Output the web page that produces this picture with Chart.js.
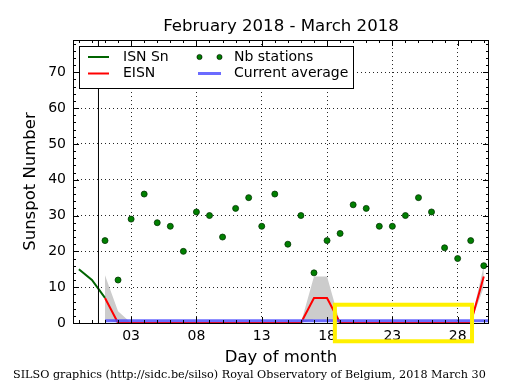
<!DOCTYPE html>
<html>
<head>
<meta charset="utf-8">
<script src="https://cdn.jsdelivr.net/npm/chart.js@4/dist/chart.umd.min.js"></script>
<style>
    html, body { margin: 0; padding: 0; background: #ffffff; }
    #chart { display: block; }
</style>
</head>
<body>
<canvas id="chart" width="515" height="390"></canvas>
<script>
// ISN Sn (end of previous month), days relative to March
const isnDays = [-1, 0, 1];
const isnValues = [15, 12, 7];

// daily values, March 1..30
const days = [1, 2, 3, 4, 5, 6, 7, 8, 9, 10, 11, 12, 13, 14, 15, 16, 17, 18, 19, 20, 21, 22, 23, 24, 25, 26, 27, 28, 29, 30];
const eisnValues = [7, 0, 0, 0, 0, 0, 0, 0, 0, 0, 0, 0, 0, 0, 0, 0, 7, 7, 0, 0, 0, 0, 0, 0, 0, 0, 0, 0, 0, 13];
const bandHigh = [13.3, 3.3, 0, 0, 0, 0, 0, 0, 0, 0, 0, 0, 0, 0, 0, 0, 13, 13, 0, 0, 0, 0, 0, 0, 0, 0, 0, 0, 0, 16];
const bandLow = [1, 0, 0, 0, 0, 0, 0, 0, 0, 0, 0, 0, 0, 0, 0, 0, 1, 1, 0, 0, 0, 0, 0, 0, 0, 0, 0, 0, 0, 10];
const stations = [23, 12, 29, 36, 28, 27, 20, 31, 30, 24, 32, 35, 27, 36, 22, 30, 14, 23, 25, 33, 32, 27, 27, 30, 35, 31, 21, 18, 23, 16];

const averageDays = [1, 31];
const averageValues = [0.6, 0.6];

const markerDay = 0.5;
const boxDays = [18.6, 29.1];
const boxValues = [-5.1, 5.1];

const xTicks = [3, 8, 13, 18, 23, 28];
const yTicks = [0, 10, 20, 30, 40, 50, 60, 70];
const xRange = [-1.45, 30.4];
const yRange = [0, 79];

const titleText = "February 2018 - March 2018";
const footerText = "SILSO graphics (http://sidc.be/silso) Royal Observatory of Belgium, 2018 March 30";

const sans = "'DejaVu Sans', sans-serif";

function points(xs, ys) {
    return xs.map((x, i) => ({ x: x, y: ys[i] }));
}

Chart.defaults.font.family = sans;
Chart.defaults.color = "#000000";

const decorations = {
    id: "decorations",
    afterDraw(chart) {
        const { ctx, chartArea: a, scales: { x, y } } = chart;
        ctx.save();

        // frame
        ctx.strokeStyle = "#000000";
        ctx.lineWidth = 1;
        ctx.strokeRect(Math.round(a.left) + 0.5, Math.round(a.top) + 0.5,
            Math.round(a.right - a.left) - 1, Math.round(a.bottom - a.top));

        // inward ticks on all sides
        ctx.beginPath();
        for (let d = -1; d <= 30; d++) {
            const px = Math.round(x.getPixelForValue(d)) + 0.5;
            const len = xTicks.includes(d) ? 6 : 3;
            ctx.moveTo(px, a.bottom); ctx.lineTo(px, a.bottom - len);
            ctx.moveTo(px, a.top); ctx.lineTo(px, a.top + len);
        }
        for (let v = 0; v <= 78; v += 2) {
            const py = Math.round(y.getPixelForValue(v)) + 0.5;
            const len = v % 10 === 0 ? 6 : 3;
            ctx.moveTo(a.left, py); ctx.lineTo(a.left + len, py);
            ctx.moveTo(a.right, py); ctx.lineTo(a.right - len, py);
        }
        ctx.stroke();

        // highlight box
        const bx0 = x.getPixelForValue(boxDays[0]);
        const bx1 = x.getPixelForValue(boxDays[1]);
        const by0 = y.getPixelForValue(boxValues[1]);
        const by1 = y.getPixelForValue(boxValues[0]);
        ctx.strokeStyle = "rgb(255, 240, 0)";
        ctx.lineWidth = 4;
        ctx.lineJoin = "miter";
        ctx.strokeRect(bx0, by0, bx1 - bx0, by1 - by0);

        // legend
        const lx = 79.5, ly = 46.5, lw = 274, lh = 42;
        ctx.fillStyle = "#ffffff";
        ctx.fillRect(lx, ly, lw, lh);
        ctx.strokeStyle = "#000000";
        ctx.lineWidth = 1;
        ctx.strokeRect(lx, ly, lw, lh);

        const sets = chart.data.datasets;
        const row1 = 57, row2 = 73.5;
        ctx.lineWidth = 2;
        ctx.strokeStyle = sets[5].borderColor;
        ctx.beginPath(); ctx.moveTo(88, row1); ctx.lineTo(109, row1); ctx.stroke();
        ctx.strokeStyle = sets[4].borderColor;
        ctx.beginPath(); ctx.moveTo(88, row2); ctx.lineTo(109, row2); ctx.stroke();
        ctx.lineWidth = 3;
        ctx.strokeStyle = sets[3].borderColor;
        ctx.beginPath(); ctx.moveTo(198, row2); ctx.lineTo(221, row2); ctx.stroke();
        ctx.fillStyle = sets[1].pointBackgroundColor;
        ctx.strokeStyle = "#000000";
        ctx.lineWidth = 0.6;
        [199.5, 219.5].forEach((cx) => {
            ctx.beginPath(); ctx.arc(cx, row1, 2.6, 0, Math.PI * 2); ctx.fill(); ctx.stroke();
        });

        ctx.fillStyle = "#000000";
        ctx.font = "14px " + sans;
        ctx.textBaseline = "middle";
        ctx.textAlign = "left";
        ctx.fillText(sets[5].label, 123, row1);
        ctx.fillText(sets[4].label, 123, row2);
        ctx.fillText(sets[1].label, 234, row1);
        ctx.fillText(sets[3].label, 234, row2);

        // footer
        ctx.font = "11.2px 'DejaVu Serif', serif";
        ctx.textBaseline = "alphabetic";
        ctx.fillText(footerText, 13, 378);
        ctx.restore();
    }
};

new Chart(document.getElementById("chart"), {
    type: "line",
    data: {
        datasets: [
            {
                label: "marker",
                data: [{ x: markerDay, y: yRange[0] }, { x: markerDay, y: yRange[1] }],
                borderColor: "#000000",
                borderWidth: 1,
                pointRadius: 0
            },
            {
                label: "Nb stations",
                data: points(days, stations),
                showLine: false,
                pointRadius: 3,
                pointBackgroundColor: "#008000",
                pointBorderColor: "#003300",
                pointBorderWidth: 0.8
            },
            {
                label: "spacer",
                data: [],
                pointRadius: 0
            },
            {
                label: "Current average",
                data: points(averageDays, averageValues),
                borderColor: "rgba(70, 70, 255, 0.8)",
                borderWidth: 3,
                pointRadius: 0
            },
            {
                label: "EISN",
                data: points(days, eisnValues),
                borderColor: "#ff0000",
                borderWidth: 2,
                pointRadius: 0
            },
            {
                label: "ISN Sn",
                data: points(isnDays, isnValues),
                borderColor: "#006400",
                borderWidth: 2,
                pointRadius: 0
            },
            {
                label: "band high",
                data: points(days, bandHigh),
                borderWidth: 0,
                borderColor: "rgba(0,0,0,0)",
                backgroundColor: "#cccccc",
                fill: "+1",
                pointRadius: 0
            },
            {
                label: "band low",
                data: points(days, bandLow),
                borderWidth: 0,
                borderColor: "rgba(0,0,0,0)",
                pointRadius: 0
            }
        ]
    },
    options: {
        responsive: false,
        animation: false,
        devicePixelRatio: 1,
        layout: { padding: { left: 0, right: 26, top: 0, bottom: 22 } },
        plugins: {
            legend: { display: false },
            tooltip: { enabled: false },
            title: {
                display: true,
                text: titleText,
                fullSize: false,
                color: "#000000",
                font: { size: 16.6, weight: "normal", family: sans },
                padding: { top: 16.5, bottom: 3.6 }
            }
        },
        scales: {
            x: {
                type: "linear",
                min: xRange[0],
                max: xRange[1],
                afterBuildTicks(scale) {
                    scale.ticks = xTicks.map((v) => ({ value: v }));
                },
                afterFit(scale) {
                    scale.height = 45;
                },
                ticks: {
                    padding: 5,
                    color: "#000000",
                    font: { size: 14 },
                    maxRotation: 0,
                    autoSkip: false,
                    callback: (v) => String(v).padStart(2, "0")
                },
                grid: { color: "rgba(0,0,0,0.85)", lineWidth: 1, drawTicks: false },
                border: { display: false, dash: [1, 3] },
                title: {
                    display: true,
                    text: "Day of month",
                    color: "#000000",
                    font: { size: 16.5 },
                    padding: { top: 0, bottom: 0.6 }
                }
            },
            y: {
                type: "linear",
                min: yRange[0],
                max: yRange[1],
                afterBuildTicks(scale) {
                    scale.ticks = yTicks.map((v) => ({ value: v }));
                },
                afterFit(scale) {
                    scale.width = 73;
                },
                ticks: {
                    padding: 7,
                    color: "#000000",
                    font: { size: 14 }
                },
                grid: { color: "rgba(0,0,0,0.85)", lineWidth: 1, drawTicks: false },
                border: { display: false, dash: [1, 3] },
                title: {
                    display: true,
                    text: "Sunspot Number",
                    color: "#000000",
                    font: { size: 16.5 },
                    padding: { top: 21, bottom: 0 }
                }
            }
        }
    },
    plugins: [decorations]
});
</script>
</body>
</html>
